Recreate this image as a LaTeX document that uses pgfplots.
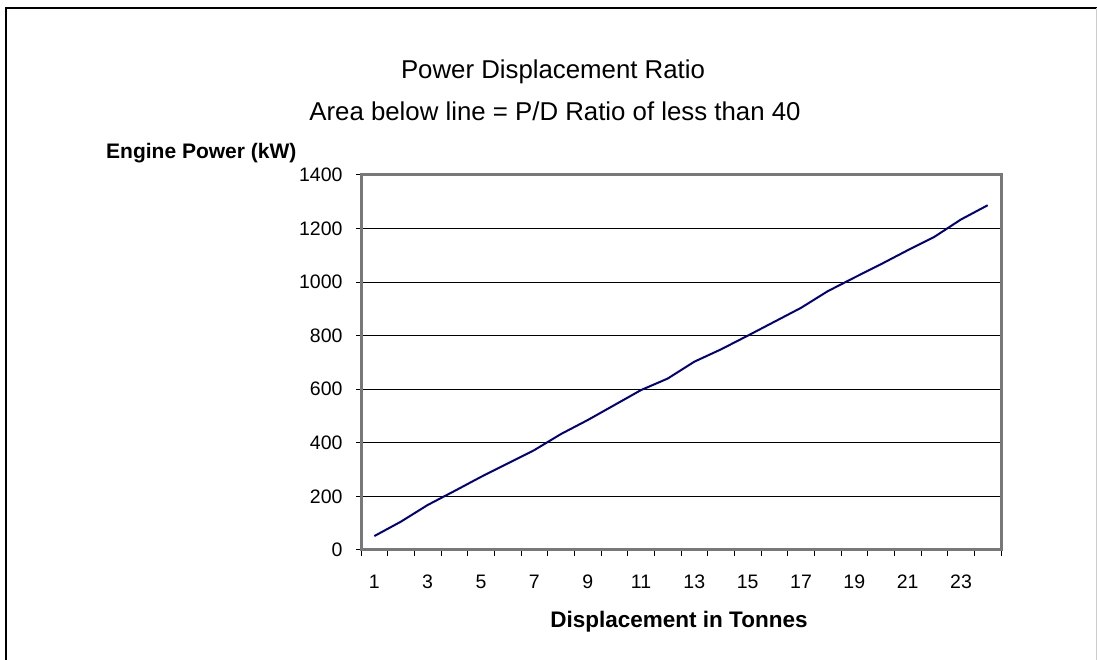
\documentclass[border=0pt]{standalone}
\usepackage{pgfplots}
\pgfplotsset{compat=1.18}
\usepackage{fontspec}
\setmainfont{Liberation Sans}
\definecolor{navyline}{RGB}{0,0,128}
\definecolor{frame}{RGB}{120,120,120}
\begin{document}
\begin{tikzpicture}[x=1pt,y=1pt]
\path[use as bounding box] (0,0) rectangle (1097,660);
\draw[black,line width=2pt] (6,0) -- (6,652) -- (1097,652);
\draw[black!20,line width=1pt] (1096.5,0) -- (1096.5,652);
\node at (553,588) {\fontsize{25.8}{30}\selectfont Power Displacement Ratio};
\node at (555,548.5) {\fontsize{25.8}{30}\selectfont Area below line = P/D Ratio of less than 40};
\node[anchor=west,inner sep=0pt] at (106,507) {\fontsize{21}{25}\selectfont\bfseries Engine Power (kW)};
\node at (679,38) {\fontsize{22.5}{26}\selectfont\bfseries Displacement in Tonnes};
\begin{axis}[
  at={(361pt,110pt)}, anchor=south west,
  width=640pt, height=375pt, scale only axis,
  xmin=0.5, xmax=24.5, ymin=0, ymax=1400,
  axis line style={draw=frame, line width=3pt},
  xtick={1,3,...,23},
  minor xtick={0.5,1.5,...,24.5},
  ytick={0,200,...,1400},
  xtick pos=bottom, ytick pos=left,
  tick align=outside,
  major tick length=5pt,
  minor tick length=6pt,
  major x tick style={draw=none},
  y tick style={draw=black, line width=1pt},
  minor x tick style={draw=black, line width=1pt},
  ymajorgrids,
  major grid style={draw=black, line width=1pt},
  ticklabel style={font=\fontsize{19.5}{23}\selectfont},
  xticklabel style={anchor=base, yshift=-34pt},
  yticklabel style={xshift=-10pt},
  /pgf/number format/assume math mode=true,
  /pgf/number format/1000 sep={},
]
\addplot[navyline, line width=2pt, mark=none] coordinates {
(1,52) (2,106) (3,168) (4,220) (5,273) (6,323) (7,373) (8,433)
(9,485) (10,541) (11,597) (12,640) (13,703) (14,749) (15,800) (16,852)
(17,904) (18,966) (19,1017) (20,1067) (21,1119) (22,1169) (23,1234) (24,1287)
};
\end{axis}
\end{tikzpicture}
\end{document}
